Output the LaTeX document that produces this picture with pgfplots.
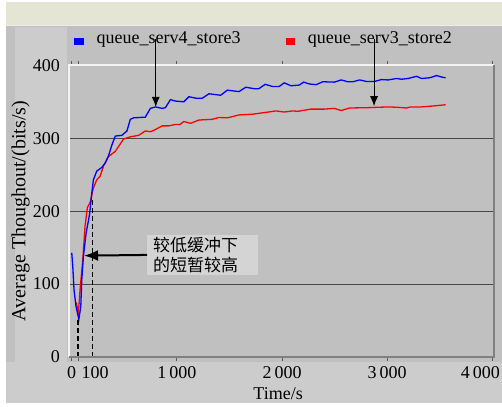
\documentclass[border=0pt]{standalone}
\usepackage{fontspec}
\setmainfont{Liberation Serif}
\newfontfamily\cjk{Noto Sans CJK SC}
\usepackage{pgfplots}
\pgfplotsset{compat=1.18}
\usetikzlibrary{arrows.meta}
\definecolor{beige}{HTML}{E5E5D5}
\definecolor{bg}{HTML}{C0C0C0}
\definecolor{lightbg}{HTML}{CCCCCC}
\definecolor{boxbg}{HTML}{D4D4D4}
\begin{document}
\begin{tikzpicture}[x=1pt,y=1pt]
\path[use as bounding box] (0,0) rectangle (502,406);
\fill[white] (0,0) rectangle (502,406);
\fill[beige] (6,381) rectangle (502,404);
\fill[bg] (6,44) rectangle (502,381);
\fill[lightbg] (15,44) rectangle (67,379);
\fill[lightbg] (6,3) rectangle (502,44);
\draw[white!70!bg] (6,381) -- (502,381);
\begin{axis}[
  at={(69pt,49pt)}, anchor=south west, scale only axis,
  width=425pt, height=292pt,
  xmin=-26, xmax=4016, ymin=0, ymax=400.5,
  axis background/.style={fill=bg},
  axis line style={draw=none},
  clip=false,
  font=\fontsize{18}{20}\selectfont,
  tick align=outside, major tick length=4pt,
  xtick={0,1000,2000,3000,4000},
  xticklabels={0,1\,000,2\,000,3\,000,\hspace*{-24pt}4\,000},
  extra x ticks={60}, extra x tick labels={100},
  extra x tick style={tick label style={xshift=17pt}},
  xtick style={draw=black!65, line width=0.8pt},
  ytick={0,100,200,300,400},
  yticklabels={0,100,200,300,400},
  ytick style={draw=none},
  ymajorgrids,
  major grid style={draw=black!72, line width=0.9pt},
  yticklabel style={inner sep=0pt, anchor=east, xshift=-5pt},
  xticklabel style={inner sep=0pt, yshift=-5pt},
  every axis y label/.style={at={(axis description cs:-0.114,0.5)}, rotate=90, anchor=center, font=\fontsize{20}{22}\selectfont},
  every axis x label/.style={at={(axis description cs:0.492,-0.124)}, anchor=center},
  ylabel={Average Thoughout/(bits/s)},
  xlabel={Time/s},
  legend columns=2, reverse legend,
  legend style={at={(axis description cs:0.012,1)}, anchor=south west, yshift=19pt,
    draw=none, fill=none, inner sep=0pt,
    font=\fontsize{18}{20}\selectfont,
    /tikz/every odd column/.append style={column sep=12pt},
    /tikz/every even column/.append style={column sep=44pt},
    nodes={inner sep=1pt}},
  legend image code/.code={\fill[#1] (0pt,-6.5pt) rectangle (8pt,-0.8pt);},
]
\addplot[red, line width=1.3pt] coordinates {
(45,75) (63,58) (79,92) (105,133) (127,180) (149,205) (175,212) (195,225) (206,232) (238,243) (270,248) (302,262) (350,275) (414,282) (493,299) (557,302) (636,304) (700,310) (750,309) (796,312) (860,317) (923,317) (987,319) (1030,319) (1066,323) (1130,320.5) (1209,325) (1337,326) (1400,328.5) (1480,328) (1591,332) (1719,333) (1846,335.5) (1942,337.5) (2021,336) (2101,337.5) (2150,337) (2212,338.5) (2276,340) (2403,340) (2499,341) (2563,338) (2642,341.5) (2817,342) (3008,343) (3100,342.5) (3183,341.5) (3220,343) (3327,343) (3454,344.5) (3556,346)
};
\addlegendentry{queue\_serv3\_store2}
\addplot[blue, line width=1.3pt] coordinates {
(0,143) (10,124) (22,92) (41,69) (63,55) (66,50) (86,69) (95,105) (111,138) (137,170) (170,196) (191,225) (206,243) (238,255) (286,260) (318,266) (350,276) (380,290) (414,303) (477,304) (525,310) (557,326) (589,328) (700,329) (748,341) (796,343) (860,341) (891,342) (939,353) (987,351) (1066,350) (1114,357) (1180,355) (1242,355) (1305,361) (1416,359) (1480,366) (1591,364) (1655,370) (1735,368) (1780,368) (1840,374) (1910,371) (1973,371) (2021,376) (2085,372) (2164,373) (2206,377) (2260,374.5) (2324,373.5) (2388,377.5) (2499,377) (2563,380) (2626,377.5) (2674,377.5) (2738,380) (2801,378) (2881,378) (2945,380.5) (3010,380) (3088,382) (3136,381) (3200,382) (3279,385) (3327,382) (3406,383) (3470,386) (3518,384) (3556,383)
};
\addlegendentry{queue\_serv4\_store3}
\addplot[black, line width=1.4pt, dash pattern=on 5pt off 3pt, forget plot] coordinates {(60,0) (60,51)};
\addplot[black, line width=1.4pt, dash pattern=on 5pt off 3pt, forget plot] coordinates {(200,0) (200,217)};
\draw[white!80!bg, line width=1.5pt] (rel axis cs:0,0) -- (rel axis cs:0,1) -- (rel axis cs:1,1);
\draw[black!50, line width=1.2pt] (rel axis cs:1,1) -- (rel axis cs:1,0) -- (rel axis cs:0,0);
\draw[-{Latex[length=10pt,width=8pt]}, line width=0.9pt] (axis cs:799,436) -- (axis cs:799,343);
\draw[-{Latex[length=10pt,width=8pt]}, line width=0.9pt] (axis cs:2875,436) -- (axis cs:2875,344);
\node[fill=boxbg, anchor=west, inner xsep=6pt, inner ysep=2pt, text width=99pt, align=left, font=\cjk\fontsize{17}{20}\selectfont] (box) at (axis cs:716,140) {较低缓冲下\\的短暂较高};
\draw[-{Latex[length=14pt,width=11pt]}, line width=2pt] (box.west) -- (axis cs:117,139);
\end{axis}
\end{tikzpicture}
\end{document}
